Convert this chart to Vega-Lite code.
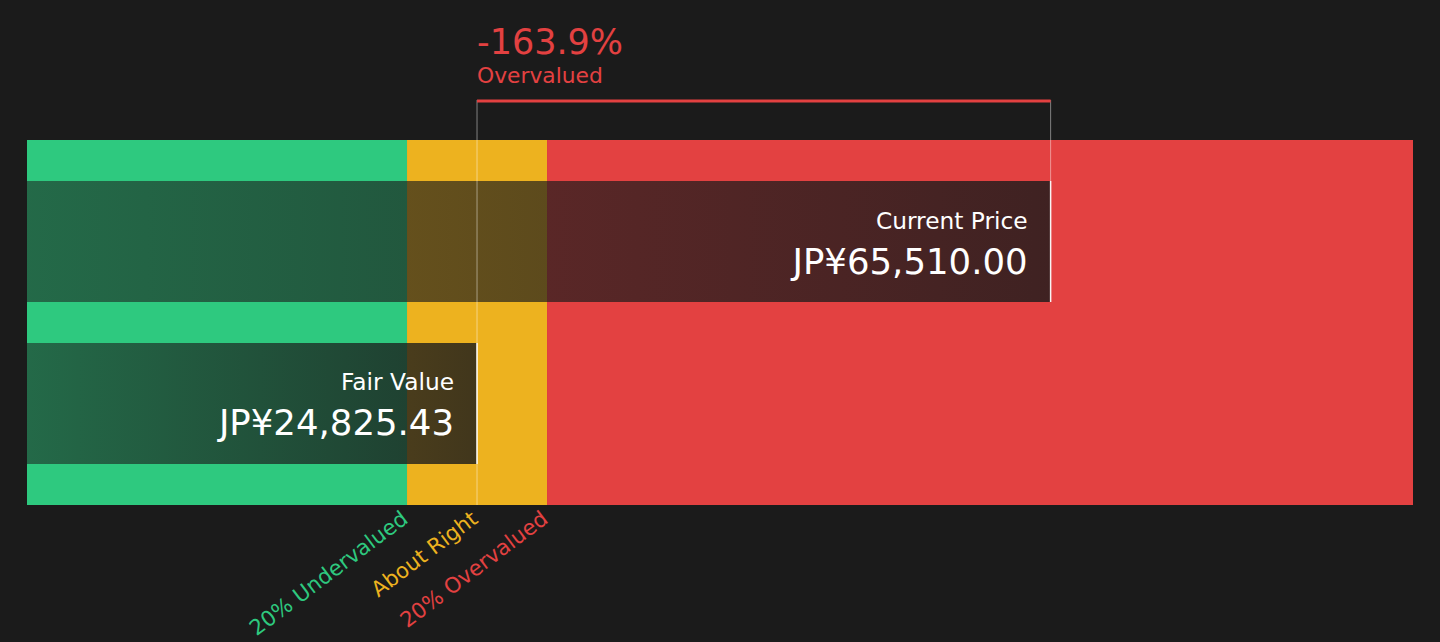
{
  "$schema": "https://vega.github.io/schema/vega-lite/v6.json",
  "autosize": "none",
  "width": 1386,
  "height": 365,
  "padding": {"left": 27, "right": 27, "top": 140, "bottom": 137},
  "background": "#1b1b1b",
  "config": {"view": {"stroke": null}, "text": {"font": "DejaVu Sans"}},
  "datasets": {
    "zones": [
      {"zone": "20% Undervalued", "low": -7093, "high": 19860.34, "ref": 19860.34},
      {"zone": "About Right", "low": 19860.34, "high": 29790.52, "ref": 24825.43},
      {"zone": "20% Overvalued", "low": 29790.52, "high": 91212, "ref": 29790.52}
    ],
    "prices": [
      {"label": "Current Price", "price": 65510, "text": "JP¥65,510.00"},
      {"label": "Fair Value", "price": 24825.43, "text": "JP¥24,825.43"}
    ],
    "summary": [
      {"fair": 24825.43, "current": 65510, "pct": "-163.9%", "verdict": "Overvalued"}
    ]
  },
  "layer": [
    {
      "data": {"name": "zones"},
      "mark": {"type": "rect"},
      "encoding": {
        "x": {"field": "low", "type": "quantitative", "axis": null, "scale": {"domain": [-7093, 91212], "nice": false, "zero": false}},
        "x2": {"field": "high"},
        "color": {"field": "zone", "type": "nominal", "legend": null,
          "scale": {"domain": ["20% Undervalued", "About Right", "20% Overvalued"], "range": ["#2ec97f", "#edb21f", "#e34141"]}}
      }
    },
    {
      "data": {"name": "prices"},
      "mark": {"type": "bar", "fill": {"gradient": "linear", "x1": 0, "x2": 1, "y1": 0, "y2": 0,
        "stops": [{"offset": 0, "color": "rgba(27,27,27,0.55)"}, {"offset": 1, "color": "rgba(27,27,27,0.82)"}]}},
      "encoding": {
        "y": {"field": "label", "type": "nominal", "axis": null, "sort": ["Current Price", "Fair Value"],
          "scale": {"paddingInner": 0.2531, "paddingOuter": 0.2531}},
        "x": {"field": "price", "type": "quantitative"},
        "x2": {"datum": -7093}
      }
    },
    {
      "data": {"name": "prices"},
      "mark": {"type": "tick", "color": "#ffffff", "thickness": 1.5, "size": 121, "opacity": 0.95},
      "encoding": {
        "y": {"field": "label", "type": "nominal"},
        "x": {"field": "price", "type": "quantitative"}
      }
    },
    {
      "data": {"name": "prices"},
      "mark": {"type": "text", "align": "right", "baseline": "alphabetic", "dx": -23, "yOffset": -13, "fontSize": 23.3, "fill": "#ffffff"},
      "encoding": {
        "y": {"field": "label", "type": "nominal"},
        "x": {"field": "price", "type": "quantitative"},
        "text": {"field": "label"}
      }
    },
    {
      "data": {"name": "prices"},
      "mark": {"type": "text", "align": "right", "baseline": "alphabetic", "dx": -23, "yOffset": 32, "fontSize": 35.5, "fill": "#ffffff"},
      "encoding": {
        "y": {"field": "label", "type": "nominal"},
        "x": {"field": "price", "type": "quantitative"},
        "text": {"field": "text"}
      }
    },
    {
      "data": {"name": "summary"},
      "mark": {"type": "rule", "color": "#ffffff", "opacity": 0.45, "strokeWidth": 1, "yOffset": -141.5, "y2Offset": 101.5},
      "encoding": {
        "x": {"field": "fair", "type": "quantitative"},
        "y": {"datum": "Current Price", "type": "nominal"},
        "y2": {"datum": "Fair Value"}
      }
    },
    {
      "data": {"name": "summary"},
      "mark": {"type": "rule", "color": "#ffffff", "opacity": 0.45, "strokeWidth": 1, "yOffset": -141.5, "y2Offset": -60.5},
      "encoding": {
        "x": {"field": "current", "type": "quantitative"},
        "y": {"datum": "Current Price", "type": "nominal"},
        "y2": {"datum": "Current Price"}
      }
    },
    {
      "data": {"name": "summary"},
      "mark": {"type": "rule", "color": "#e34141", "strokeWidth": 3, "yOffset": -140.5},
      "encoding": {
        "x": {"field": "fair", "type": "quantitative"},
        "x2": {"field": "current"},
        "y": {"datum": "Current Price", "type": "nominal"}
      }
    },
    {
      "data": {"name": "summary"},
      "mark": {"type": "text", "align": "left", "baseline": "alphabetic", "yOffset": -187.5, "fontSize": 35, "fill": "#e34141"},
      "encoding": {
        "x": {"field": "fair", "type": "quantitative"},
        "y": {"datum": "Current Price", "type": "nominal"},
        "text": {"field": "pct"}
      }
    },
    {
      "data": {"name": "summary"},
      "mark": {"type": "text", "align": "left", "baseline": "alphabetic", "yOffset": -158.5, "fontSize": 21.8, "fill": "#e34141"},
      "encoding": {
        "x": {"field": "fair", "type": "quantitative"},
        "y": {"datum": "Current Price", "type": "nominal"},
        "text": {"field": "verdict"}
      }
    },
    {
      "data": {"name": "zones"},
      "mark": {"type": "text", "y": "height", "yOffset": 3, "xOffset": -8, "angle": 323, "align": "right", "baseline": "top", "fontSize": 21.4},
      "encoding": {
        "x": {"field": "ref", "type": "quantitative"},
        "text": {"field": "zone"},
        "color": {"field": "zone", "type": "nominal", "legend": null}
      }
    }
  ]
}
